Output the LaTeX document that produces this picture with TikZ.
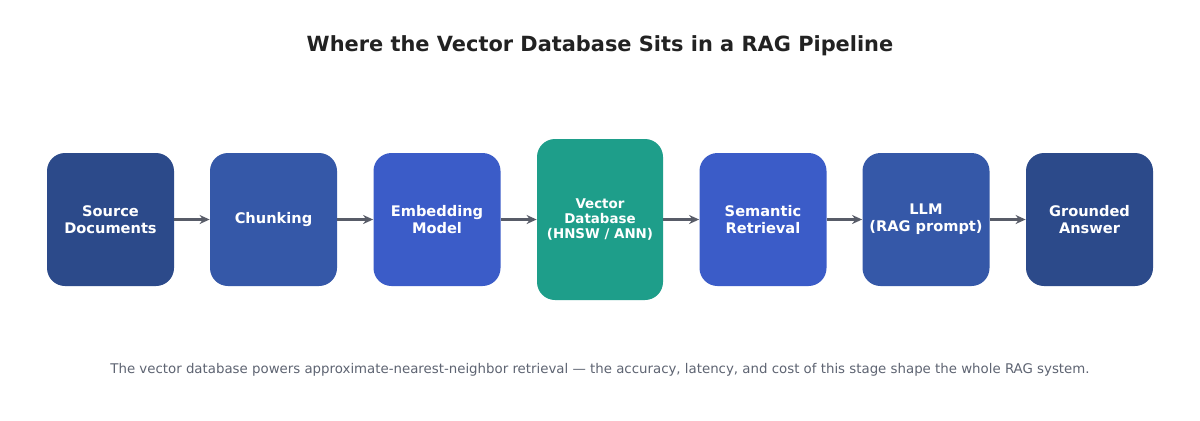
\documentclass[tikz,border=0pt]{standalone}
\usepackage{fontspec}
\setmainfont{DejaVu Sans}
\usetikzlibrary{arrows.meta,positioning}
\definecolor{rgNavy}{HTML}{2C4A8A}
\definecolor{rgMid}{HTML}{3558A8}
\definecolor{rgBlue}{HTML}{3B5CC8}
\definecolor{rgTeal}{HTML}{1E9E8A}
\definecolor{rgArrow}{HTML}{585C68}
\definecolor{rgInk}{HTML}{222222}
\definecolor{rgMute}{HTML}{5E6472}
\tikzset{
  stage/.style={rounded corners=9pt, minimum width=63.5pt, minimum height=66.5pt, inner sep=2pt, text=white, font=\fontsize{7.3}{8.5}\selectfont\bfseries, align=center},
  stageN/.style={stage, fill=rgNavy},
  stageM/.style={stage, fill=rgMid},
  stageB/.style={stage, fill=rgBlue},
  stageT/.style={stage, fill=rgTeal, minimum height=80.5pt, minimum width=63pt, font=\fontsize{6.7}{7.5}\selectfont\bfseries},
  flow/.style={-{Stealth[length=5pt,width=4.5pt]}, line width=1.3pt, draw=rgArrow},
}
\begin{document}
\begin{tikzpicture}[x=0.5pt,y=-0.5pt]
  \useasboundingbox[fill=white] (0,0) rectangle (1200,420);
  \node[font=\fontsize{10.45}{12}\selectfont\bfseries, text=rgInk] (title) at (600,46) {Where the Vector Database Sits in a RAG Pipeline};
  % pipeline stages
  \node[stageN] (src) at (110.5,219.5) {Source\\Documents};
  \node[stageM] (chunk) at (273.5,219.5) {Chunking};
  \node[stageB] (embed) at (437,219.5) {Embedding\\Model};
  \node[stageT] (vdb) at (600,219.5) {Vector\\Database\\(HNSW / ANN)};
  \node[stageB] (retr) at (763,219.5) {Semantic\\Retrieval};
  \node[stageM] (llm) at (926,219.5) {LLM\\(RAG prompt)};
  \node[stageN] (ans) at (1089.5,219.5) {Grounded\\Answer};
  \draw[flow] (src) -- (chunk);
  \draw[flow] (chunk) -- (embed);
  \draw[flow] (embed) -- (vdb);
  \draw[flow] (vdb) -- (retr);
  \draw[flow] (retr) -- (llm);
  \draw[flow] (llm) -- (ans);
  \node[font=\fontsize{6.67}{8}\selectfont, text=rgMute] (note) at (600,370) {The vector database powers approximate-nearest-neighbor retrieval — the accuracy, latency, and cost of this stage shape the whole RAG system.};
\end{tikzpicture}
\end{document}
